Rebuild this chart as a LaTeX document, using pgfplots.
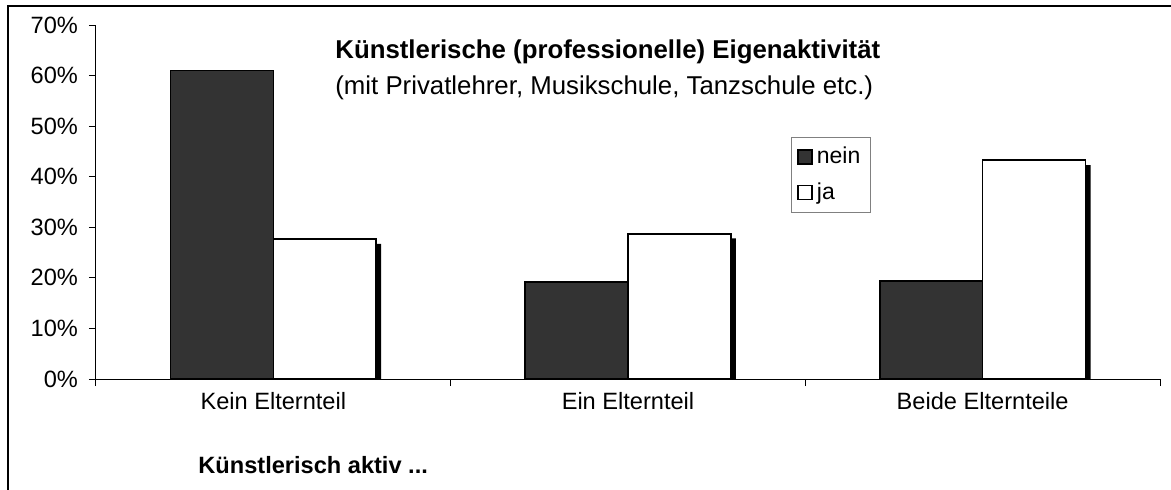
\documentclass[border=0pt]{standalone}
\usepackage{fontspec}
\setmainfont{Liberation Sans}
\usepackage{pgfplots}
\pgfplotsset{compat=1.18}
\newcommand\f{\fontsize{11.8}{14}\selectfont}
\newcommand\ft{\fontsize{12.9}{15}\selectfont}
\newcommand\fl{\fontsize{11.5}{14}\selectfont}
\definecolor{darkbar}{HTML}{333333}

\begin{document}
\begin{tikzpicture}
\useasboundingbox (0pt,0pt) rectangle (585.5pt,244.5pt);
% outer chart frame (only left and top edges visible)
\draw[line width=0.7pt] (4pt,-5pt) |- (600pt,241.5pt);
\begin{axis}[
  at={(48pt,55pt)}, anchor=south west,
  scale only axis, width=532pt, height=177pt,
  ybar=0pt, bar width=0.29,
  xmin=-0.5, xmax=2.5, ymin=0, ymax=70,
  axis x line=bottom, axis y line=left,
  axis line style={line width=0.5pt, -},
  xtick={-0.5,0.5,1.5,2.5}, xticklabels={},
  extra x ticks={0,1,2},
  extra x tick labels={Kein Elternteil,Ein Elternteil,Beide Elternteile},
  extra x tick style={major tick length=0pt},
  ytick={0,10,...,70},
  yticklabels={0\%,10\%,20\%,30\%,40\%,50\%,60\%,70\%},
  tick align=outside, major tick length=3.5pt,
  tick style={line width=0.5pt, black},
  /pgf/number format/assume math mode=true,
  tick label style={font=\f},
  xticklabel style={yshift=-3pt},
  yticklabel style={xshift=-2pt},
  legend style={at={(0.653,0.685)}, anchor=north west, font=\fl,
    draw=gray, line width=0.5pt, inner xsep=3pt, inner ysep=3pt,
    row sep=4pt, cells={anchor=west}},
  legend image code/.code={\draw[#1, line width=0.8pt] (0pt,-3.5pt) rectangle (7pt,3.5pt);},
]
% shadow of the white bars
\addplot[fill=black, draw=none, forget plot, bar shift=0.145, xshift=2.5pt]
  coordinates {(0,26.7) (1,27.8) (2,42.3)};
\addplot[fill=darkbar, draw=black, line width=0.8pt]
  coordinates {(0,61.0) (1,19.2) (2,19.4)};
\addlegendentry{nein}
\addplot[fill=white, draw=black, line width=0.8pt]
  coordinates {(0,27.7) (1,28.7) (2,43.3)};
\addlegendentry{ja}
\end{axis}
\node[anchor=west, inner sep=0pt, font=\ft\bfseries] at (167.5pt,218.5pt) {Künstlerische (professionelle) Eigenaktivität};
\node[anchor=west, inner sep=0pt, font=\ft] at (167.5pt,200.5pt) {(mit Privatlehrer, Musikschule, Tanzschule etc.)};
\node[anchor=west, inner sep=0pt, font=\f\bfseries] at (99pt,12pt) {Künstlerisch aktiv ...};
\end{tikzpicture}
\end{document}
